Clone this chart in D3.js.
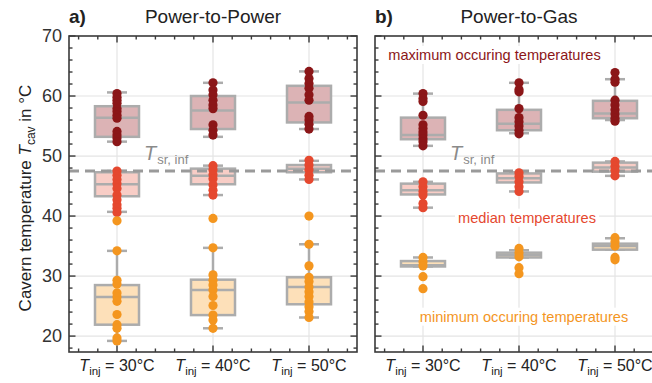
<!DOCTYPE html>
<html><head><meta charset="utf-8">
<script src="https://cdn.jsdelivr.net/npm/d3@7"></script>
<style>
html,body{margin:0;padding:0;background:#fff;}
svg{display:block;font-family:"Liberation Sans",Arial,Helvetica,sans-serif;}
</style></head>
<body><svg id="c" width="652" height="383"></svg>
<script>
// ---------- data ----------
const categories = ["30", "40", "50"];
const panelTitles = ["Power-to-Power", "Power-to-Gas"];
const panelLetters = ["a)", "b)"];
const yTicks = [20, 30, 40, 50, 60, 70];
const tsrInf = 47.5;

// box stats: [lower whisker, Q1, median, Q3, upper whisker] per category
const p2pMaxBox = [[52.4, 53.2, 56.4, 58.3, 60.6], [53.2, 54.5, 57.6, 60.0, 62.2], [54.5, 55.6, 58.9, 61.7, 64.1]];
const p2pMedBox = [[40.7, 43.3, 45.3, 47.3, 47.5], [43.5, 45.3, 46.7, 47.9, 48.4], [46.1, 47.3, 47.9, 48.5, 49.2]];
const p2pMinBox = [[19.2, 21.9, 26.5, 28.5, 34.2], [21.3, 23.5, 27.7, 29.4, 34.7], [23.1, 25.3, 28.2, 29.8, 35.3]];
const p2gMaxBox = [[51.7, 52.8, 53.5, 56.4, 60.4], [53.8, 54.3, 55.4, 57.7, 62.2], [56.0, 56.3, 57.1, 59.2, 62.8]];
const p2gMedBox = [[41.4, 43.6, 44.3, 45.4, 45.7], [44.1, 45.6, 46.3, 47.1, 47.3], [46.7, 47.4, 48.1, 48.9, 49.1]];
const p2gMinBox = [[31.6, 31.6, 31.8, 32.5, 33.1], [33.1, 33.1, 33.5, 33.9, 34.3], [34.4, 34.4, 35.0, 35.4, 36.3]];

// individual points per category
const p2pMaxPts = [[60.4, 59.8, 59.3, 58.8, 57.9, 57.4, 56.8, 56.3, 54.1, 53.5, 53.0, 52.4],
                   [62.2, 61.0, 60.2, 59.3, 58.5, 57.9, 55.2, 54.3, 53.5],
                   [64.1, 62.9, 62.1, 61.3, 60.2, 59.3, 56.6, 56.0, 55.3, 54.5]];
const p2pMedPts = [[47.5, 46.8, 46.1, 45.4, 44.6, 43.5, 42.7, 41.9, 41.3, 40.6],
                   [48.4, 47.7, 46.9, 46.2, 45.2, 44.3, 43.5],
                   [49.3, 48.5, 47.7, 46.8, 46.1]];
const p2pMinPts = [[39.2, 34.2, 29.3, 28.7, 27.2, 26.5, 25.8, 23.6, 21.9, 21.3, 19.7, 19.2],
                   [39.6, 34.7, 30.2, 29.3, 28.5, 27.7, 26.6, 25.1, 23.5, 22.7, 21.3],
                   [40.0, 35.3, 31.7, 29.8, 29.1, 28.2, 27.4, 26.6, 25.7, 24.9, 24.1, 23.1]];
const p2gMaxPts = [[60.4, 59.6, 59.1, 56.8, 55.2, 54.6, 54.0, 53.5, 52.9, 52.4, 51.7],
                   [62.2, 61.1, 60.7, 57.9, 56.4, 55.7, 55.0, 54.3, 53.7],
                   [63.9, 62.8, 62.3, 59.3, 58.5, 57.7, 57.0, 56.3, 55.8]];
const p2gMedPts = [[45.7, 44.9, 44.1, 43.5, 42.1, 41.4],
                   [47.2, 46.6, 45.7, 44.9, 44.1],
                   [49.1, 48.3, 47.6, 46.7]];
const p2gMinPts = [[33.1, 32.4, 31.7, 29.9, 27.9],
                   [34.6, 33.9, 33.2, 31.4, 30.4],
                   [36.4, 35.7, 35.0, 33.1, 32.7]];

const seriesNames = ["max", "median", "min"];
const annotations = ["maximum occuring temperatures", "median temperatures", "minimum occuring temperatures"];

// ---------- style ----------
const dotColor = {max: "#8b1618", median: "#e5482f", min: "#f4961f"};
const boxFill = {max: "#dcb3b5", median: "#f8cdc6", min: "#fde0b9"};
const boxStroke = "#acacac";
const gridColor = "#e4e4e4";
const frameColor = "#3a3a3a";

const panels = [
  {x0: 69, series: {max: [p2pMaxBox, p2pMaxPts], median: [p2pMedBox, p2pMedPts], min: [p2pMinBox, p2pMinPts]}},
  {x0: 375, series: {max: [p2gMaxBox, p2gMaxPts], median: [p2gMedBox, p2gMedPts], min: [p2gMinBox, p2gMinPts]}}
];

const W = 288, yTop = 36, yBot = 352;
const svg = d3.select("#c");
const y = d3.scaleLinear().domain([17.35, 70]).range([yBot, yTop]);
const xBand = d3.scaleBand().domain(categories).range([0, W]).padding(0);
const xLin = d3.scaleLinear().domain([-0.5, categories.length - 0.5]).range([0, W]);

panels.forEach((p, pi) => {
  const g = svg.append("g").attr("transform", `translate(${p.x0},0)`);
  const cx = c => xBand(c) + xBand.bandwidth() / 2;

  // grid
  g.selectAll(".hg").data(yTicks.filter(t => t < 70)).join("line")
    .attr("x1", 0).attr("x2", W).attr("y1", d => y(d)).attr("y2", d => y(d))
    .attr("stroke", gridColor).attr("stroke-width", 1.2);
  g.selectAll(".vg").data(categories).join("line")
    .attr("x1", cx).attr("x2", cx).attr("y1", yTop).attr("y2", yBot)
    .attr("stroke", gridColor).attr("stroke-width", 1.2);

  // annotations (panel b) with white background
  if (pi === 1) {
    const annY = [66.0, 38.9, 22.4];
    const annX = [494.5 - p.x0, 527 - p.x0, 524 - p.x0];
    annotations.forEach((a, i) => {
      const t = g.append("text").attr("x", annX[i]).attr("y", y(annY[i]))
        .attr("text-anchor", "middle").attr("font-size", 14.6)
        .attr("fill", dotColor[seriesNames[i]]).text(a);
      const bb = t.node().getBBox();
      g.insert("rect", "text").attr("x", bb.x - 3).attr("y", bb.y - 1)
        .attr("width", bb.width + 6).attr("height", bb.height + 2).attr("fill", "#fff");
    });
  }

  // boxes
  seriesNames.forEach(s => {
    const [boxes] = p.series[s];
    categories.forEach((c, ci) => {
      const [lo, q1, med, q3, hi] = boxes[ci];
      const x = cx(c), bw = 44, cw = 20;
      g.append("line").attr("x1", x).attr("x2", x).attr("y1", y(hi)).attr("y2", y(q3))
        .attr("stroke", boxStroke).attr("stroke-width", 2.5);
      g.append("line").attr("x1", x).attr("x2", x).attr("y1", y(q1)).attr("y2", y(lo))
        .attr("stroke", boxStroke).attr("stroke-width", 2.5);
      g.append("line").attr("x1", x - cw / 2).attr("x2", x + cw / 2).attr("y1", y(hi)).attr("y2", y(hi))
        .attr("stroke", boxStroke).attr("stroke-width", 2.5);
      g.append("line").attr("x1", x - cw / 2).attr("x2", x + cw / 2).attr("y1", y(lo)).attr("y2", y(lo))
        .attr("stroke", boxStroke).attr("stroke-width", 2.5);
      g.append("rect").attr("x", x - bw / 2).attr("width", bw)
        .attr("y", y(q3)).attr("height", Math.max(0.5, y(q1) - y(q3)))
        .attr("fill", boxFill[s]).attr("stroke", boxStroke).attr("stroke-width", 2.5);
      g.append("line").attr("x1", x - bw / 2).attr("x2", x + bw / 2).attr("y1", y(med)).attr("y2", y(med))
        .attr("stroke", boxStroke).attr("stroke-width", 2.5);
    });
  });

  // dashed T_sr,inf line
  g.append("line").attr("x1", 0).attr("x2", W).attr("y1", y(tsrInf)).attr("y2", y(tsrInf))
    .attr("stroke", "#9a9a9a").attr("stroke-width", 3).attr("stroke-dasharray", "10,6");
  const tl = g.append("text").attr("x", 75).attr("y", y(tsrInf) - 11).attr("fill", "#8a8a8a");
  tl.append("tspan").attr("font-style", "italic").attr("font-size", 20).text("T");
  tl.append("tspan").attr("font-size", 13).attr("dy", 4).attr("dx", 1).text("sr, inf");

  // dots
  seriesNames.forEach(s => {
    const [, pts] = p.series[s];
    categories.forEach((c, ci) => {
      g.selectAll(null).data(pts[ci]).join("circle")
        .attr("cx", cx(c)).attr("cy", d => y(d)).attr("r", 4.6)
        .attr("fill", dotColor[s]);
    });
  });

  // frame
  g.append("rect").attr("x", 0).attr("y", yTop).attr("width", W).attr("height", yBot - yTop)
    .attr("fill", "none").attr("stroke", frameColor).attr("stroke-width", 1.6);

  // y ticks (inward), left and right
  const yMinor = d3.range(18, 70.1, 2);
  [0, W].forEach(ex => {
    const dir = ex === 0 ? 1 : -1;
    g.selectAll(null).data(yMinor).join("line")
      .attr("x1", ex).attr("x2", d => ex + dir * (d % 10 === 0 ? 6.5 : 3.5))
      .attr("y1", d => y(d)).attr("y2", d => y(d))
      .attr("stroke", frameColor).attr("stroke-width", 1.4);
  });
  // x ticks (inward), top and bottom
  const xMinor = d3.range(-0.4, categories.length - 0.45, 0.2);
  [yTop, yBot].forEach(ey => {
    const dir = ey === yTop ? 1 : -1;
    g.selectAll(null).data(xMinor).join("line")
      .attr("x1", d => xLin(d)).attr("x2", d => xLin(d))
      .attr("y1", ey).attr("y2", d => ey + dir * (Math.abs(d - Math.round(d)) < 0.01 ? 6.5 : 3.5))
      .attr("stroke", frameColor).attr("stroke-width", 1.4);
  });

  // y tick labels (left panel only)
  if (pi === 0) {
    g.selectAll(".yl").data(yTicks).join("text")
      .attr("x", -7).attr("y", d => y(d) + 6).attr("text-anchor", "end")
      .attr("font-size", 18).attr("fill", "#333").text(d => d);
  }

  // x labels
  categories.forEach(c => {
    const t = g.append("text").attr("x", cx(c)).attr("y", 371).attr("text-anchor", "middle")
      .attr("font-size", 16).attr("fill", "#222");
    t.append("tspan").attr("font-style", "italic").text("T");
    t.append("tspan").attr("font-size", 11.5).attr("dy", 4).text("inj");
    t.append("tspan").attr("dy", -4).text(` = ${c}°C`);
  });

  // titles
  svg.append("text").attr("x", p.x0).attr("y", 23).attr("font-weight", "bold")
    .attr("font-size", 19).attr("fill", "#222").text(panelLetters[pi]);
  svg.append("text").attr("x", p.x0 + W / 2).attr("y", 23).attr("text-anchor", "middle")
    .attr("font-size", 19).attr("fill", "#222").text(panelTitles[pi]);
});

// y axis label
const yl = svg.append("text").attr("transform", `translate(31,${(yTop + yBot) / 2 + 4}) rotate(-90)`)
  .attr("text-anchor", "middle").attr("font-size", 17).attr("fill", "#222");
yl.append("tspan").text("Cavern temperature ");
yl.append("tspan").attr("font-style", "italic").text("T");
yl.append("tspan").attr("font-size", 12).attr("dy", 4).text("cav");
yl.append("tspan").attr("dy", -4).text(" in °C");
</script></body></html>
